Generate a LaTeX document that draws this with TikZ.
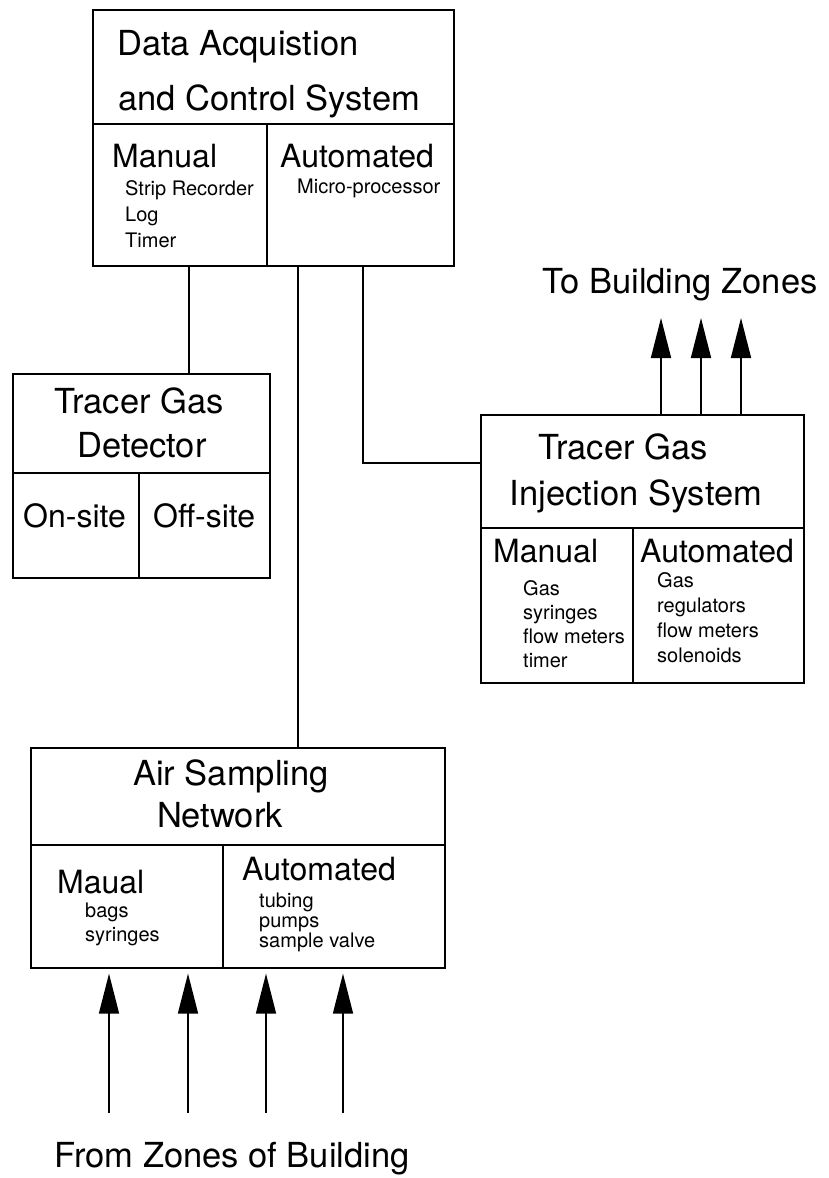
\documentclass[tikz,border=0pt]{standalone}
\usepackage{fontspec}
\setmainfont{TeX Gyre Heros}
\usetikzlibrary{arrows.meta,positioning,calc}

\begin{document}
\begin{tikzpicture}[x=1pt, y=-1pt,
    part/.style={rectangle, draw, line width=1.6pt, inner sep=0pt, anchor=north west},
    title/.style={font=\fontsize{34.5}{40}\selectfont, anchor=base, inner sep=0pt},
    mode/.style={font=\fontsize{32}{36}\selectfont, anchor=base west, inner sep=0pt},
    items/.style={font=\fontsize{20}{24}\selectfont, anchor=base west, inner sep=0pt},
    wire/.style={line width=1.4pt},
    flow/.style={line width=1.6pt, -{Triangle[length=40pt, width=20pt]}}
]
\useasboundingbox (0,0) rectangle (828,1178);

% Data acquisition and control system
\node[part, minimum width=361, minimum height=114] (dacs) at (92,9) {};
\node[part, minimum width=174, minimum height=142] (dacsman) at (92,123) {};
\node[part, minimum width=187, minimum height=142] (dacsauto) at (266,123) {};
\node[title, anchor=base west] (dacsa) at (117,55) {Data Acquistion};
\node[title, anchor=base west] (dacsb) at (118,110) {and Control System};
\node[mode] (dacsmant) at (112,167) {Manual};
\foreach \t [count=\i from 0] in {Strip Recorder, Log, Timer}
    \node[items] (dacsman\i) at (125,{195+26*\i}) {\t};
\node[mode] (dacsautot) at (280,167) {Automated};
\node[items] (dacsauto0) at (297,193) {Micro-processor};

% Tracer gas detector
\node[part, minimum width=257, minimum height=99] (det) at (12,373) {};
\node[part, minimum width=126, minimum height=105] (deton) at (12,472) {};
\node[part, minimum width=131, minimum height=105] (detoff) at (138,472) {};
\node[title] (deta) at (139,413) {Tracer Gas};
\node[title] (detb) at (142,457) {Detector};
\node[mode] (detont) at (23,527) {On-site};
\node[mode] (detofft) at (153,527) {Off-site};

% Tracer gas injection system
\node[part, minimum width=323, minimum height=113] (inj) at (480,414) {};
\node[part, minimum width=152, minimum height=155] (injman) at (480,527) {};
\node[part, minimum width=171, minimum height=155] (injauto) at (632,527) {};
\node[title] (inja) at (623,459) {Tracer Gas};
\node[title] (injb) at (636,505) {Injection System};
\node[mode] (injmant) at (493,562) {Manual};
\foreach \t [count=\i from 0] in {Gas, syringes, flow meters, timer}
    \node[items] (injman\i) at (523,{595+24*\i}) {\t};
\node[mode] (injautot) at (640,562) {Automated};
\foreach \t [count=\i from 0] in {Gas, regulators, flow meters, solenoids}
    \node[items] (injauto\i) at (657,{587+25*\i}) {\t};
\node[title] (tobz) at (680,293) {To Building Zones};

% Air sampling network
\node[part, minimum width=414, minimum height=97] (air) at (30,747) {};
\node[part, minimum width=192, minimum height=123] (airman) at (30,844) {};
\node[part, minimum width=222, minimum height=123] (airauto) at (222,844) {};
\node[title] (aira) at (231,785) {Air Sampling};
\node[title] (airb) at (220,827) {Network};
\node[mode] (airmant) at (57,893) {Maual};
\foreach \t [count=\i from 0] in {bags, syringes}
    \node[items] (airman\i) at (85,{917+24*\i}) {\t};
\node[mode] (airautot) at (242,880) {Automated};
\foreach \t [count=\i from 0] in {tubing, pumps, sample valve}
    \node[items] (airauto\i) at (259,{907+20*\i}) {\t};
\node[title] (fzb) at (232,1167) {From Zones of Building};

% Links
\coordinate (tapdet) at (189,265);
\coordinate (tapair) at (298,265);
\coordinate (tapinj) at (363,265);
\coordinate (injin) at (480,463);
\draw[wire] (tapdet) -- (tapdet |- det.north);
\draw[wire] (tapair) -- (tapair |- air.north);
\draw[wire] (tapinj) |- (injin);

% Flows
\foreach \x in {661,701,741}
    \draw[flow] (\x,0 |- inj.north) -- ++(0,-96);
\foreach \x in {109,188,266,343}
    \draw[flow] (\x,1113) -- ([yshift=-5pt]\x,0 |- airman.south);

\end{tikzpicture}
\end{document}
